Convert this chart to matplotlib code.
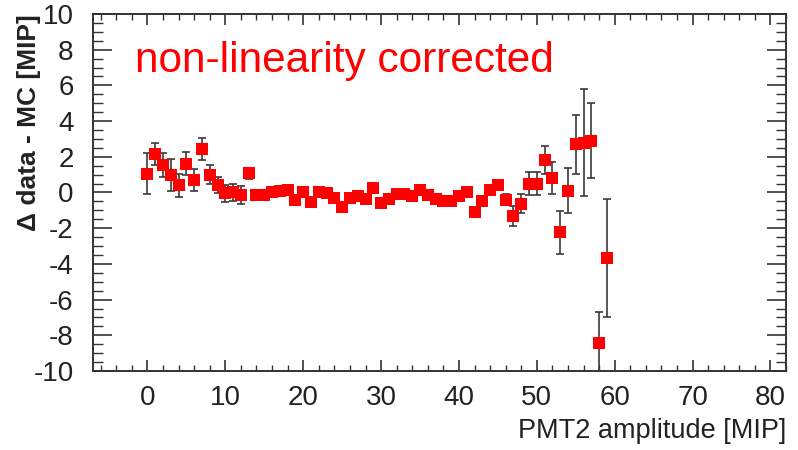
import numpy as np
import matplotlib.pyplot as plt
from matplotlib.ticker import MultipleLocator

plt.rcParams['font.family'] = ['Liberation Sans', 'DejaVu Sans']
plt.rcParams['axes.unicode_minus'] = False

# PMT2 amplitude bins [MIP]
amplitude = [0, 1, 2, 3, 4, 5, 6, 7, 8, 9,
             10, 11, 12, 13, 14, 15, 16, 17, 18, 19,
             20, 21, 22, 23, 24, 25, 26, 27, 28, 29,
             30, 31, 32, 33, 34, 35, 36, 37, 38, 39,
             40, 41, 42, 43, 44, 45, 46, 47, 48, 49,
             50, 51, 52, 53, 54, 55, 56, 57, 58, 59]

# data - MC difference [MIP]
delta = [1.05, 2.15, 1.55, 1.0, 0.4, 1.62, 0.7, 2.45, 1.0, 0.42,
         -0.05, 0.0, -0.15, 1.08, -0.12, -0.12, 0.05, 0.1, 0.15, -0.42,
         0.0, -0.55, 0.0, -0.05, -0.3, -0.8, -0.3, -0.2, -0.35, 0.25,
         -0.6, -0.35, -0.1, -0.1, -0.2, 0.12, -0.15, -0.35, -0.5, -0.5,
         -0.2, 0.0, -1.1, -0.5, 0.15, 0.42, -0.4, -1.33, -0.62, 0.5,
         0.5, 1.81, 0.82, -2.24, 0.1, 2.7, 2.78, 2.9, -8.45, -3.65]

# statistical errors [MIP]
delta_err = [1.15, 0.6, 0.68, 0.9, 0.65, 0.65, 0.6, 0.62, 0.55, 0.47,
             0.47, 0.5, 0.5, 0.3, 0.25, 0.25, 0.22, 0.22, 0.22, 0.22,
             0.22, 0.22, 0.22, 0.22, 0.22, 0.22, 0.22, 0.22, 0.22, 0.22,
             0.22, 0.22, 0.22, 0.22, 0.22, 0.22, 0.22, 0.22, 0.22, 0.22,
             0.22, 0.22, 0.25, 0.25, 0.25, 0.25, 0.3, 0.55, 0.55, 0.65,
             0.65, 0.8, 0.9, 1.2, 1.25, 1.65, 3.0, 2.1, 1.75, 3.3]

fig = plt.figure(figsize=(7.98, 4.5), dpi=100)
ax = fig.add_axes([0.1165, 0.1756, 0.8685, 0.7933])

# error bars first, markers on top (ROOT style)
ax.errorbar(amplitude, delta, yerr=delta_err, fmt='none', ecolor='#3a3a3a',
            elinewidth=1.2, capsize=3, capthick=1.2, zorder=2)
ax.plot(amplitude, delta, 's', color='#ff0000', markersize=8.7,
        markeredgewidth=0, zorder=3)

ax.set_xlim(-7, 82)
ax.set_ylim(-10, 10)

ax.xaxis.set_major_locator(MultipleLocator(10))
ax.xaxis.set_minor_locator(MultipleLocator(2))
ax.yaxis.set_major_locator(MultipleLocator(2))
ax.yaxis.set_minor_locator(MultipleLocator(0.5))

ax.tick_params(axis='both', which='both', direction='in', top=True, right=True,
               color='#333333', labelcolor='#222222', labelsize=20)
ax.tick_params(axis='x', which='major', length=8, width=1.2, pad=10)
ax.tick_params(axis='x', which='minor', length=4, width=1.0)
ax.tick_params(axis='y', which='major', length=14, width=1.2, pad=14)
ax.tick_params(axis='y', which='minor', length=7, width=1.0)

for sp in ax.spines.values():
    sp.set_color('#333333')
    sp.set_linewidth(1.4)

ax.set_xlabel('PMT2 amplitude [MIP]', fontsize=19.5, color='#222222',
              ha='right', va='center')
ax.xaxis.set_label_coords(1.0, -0.168)
ax.set_ylabel('\u0394 data - MC [MIP]', fontsize=19, fontweight='bold',
              color='#222222', ha='right', va='center')
ax.yaxis.set_label_coords(-0.093, 1.0)

ax.text(0.0606, 0.8375, 'non-linearity corrected', transform=ax.transAxes,
        color='#ff0000', fontsize=30.5, va='baseline', ha='left')

fig.savefig('out.png', dpi=100)
plt.close(fig)
